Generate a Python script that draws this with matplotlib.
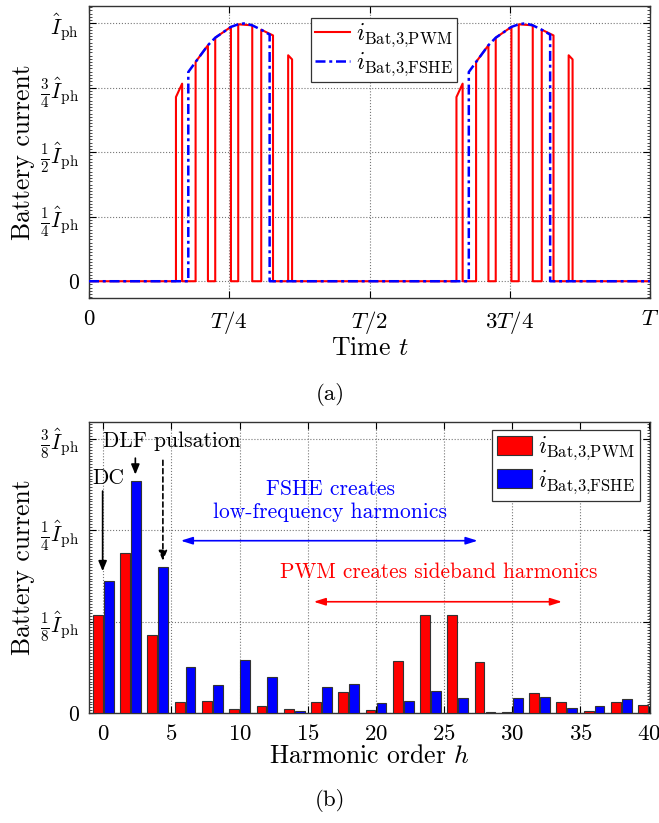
import numpy as np
import matplotlib
matplotlib.use('Agg')
import matplotlib.pyplot as plt
import matplotlib.ticker as ticker

plt.rcParams['font.family'] = 'serif'
plt.rcParams['font.serif'] = ['cmr10']
plt.rcParams['mathtext.fontset'] = 'cm'
plt.rcParams['axes.unicode_minus'] = False
plt.rcParams['axes.formatter.use_mathtext'] = True

# ---- (a) time waveform, first half period (second half repeats at +T/2) ----
# PWM pulses: on-time, off-time, height at start, height at end (in units of I_ph)
pwm_on = [0.155, 0.190, 0.225, 0.266, 0.307, 0.355]
pwm_off = [0.166, 0.212, 0.253, 0.291, 0.328, 0.362]
pwm_h_on = [0.714, 0.850, 0.944, 0.996, 0.975, 0.876]
pwm_h_off = [0.766, 0.915, 0.986, 0.992, 0.953, 0.860]

# FSHE block: top contour
fshe_t = [0.177, 0.190, 0.212, 0.225, 0.253, 0.266, 0.278, 0.291, 0.307, 0.322]
fshe_v = [0.811, 0.850, 0.915, 0.944, 0.986, 0.996, 1.000, 0.992, 0.975, 0.956]
half_shift = [0.0, 0.5]

# ---- (b) harmonic spectrum ----
harm = [0, 2, 4, 6, 8, 10, 12, 14, 16, 18, 20, 22, 24, 26, 28, 30, 32, 34, 36, 38, 40]
pwm_amp = [0.134, 0.218, 0.107, 0.015, 0.016, 0.006, 0.009, 0.005, 0.015, 0.029, 0.004,
           0.071, 0.134, 0.134, 0.070, 0.002, 0.028, 0.015, 0.003, 0.015, 0.011]
fshe_amp = [0.181, 0.317, 0.200, 0.063, 0.038, 0.073, 0.049, 0.003, 0.036, 0.039, 0.014,
            0.016, 0.030, 0.021, 0.002, 0.020, 0.022, 0.007, 0.010, 0.019, np.nan]

RED = '#ff0000'
BLUE = '#0000ff'
LBL_PWM = r'$i_{\rm Bat{,}3{,}PWM}$'
LBL_FSHE = r'$i_{\rm Bat{,}3{,}FSHE}$'


def pwm_wave():
    t, y = [0.0], [0.0]
    for s in half_shift:
        for a, b, ha, hb in zip(pwm_on, pwm_off, pwm_h_on, pwm_h_off):
            t += [a + s, a + s, b + s, b + s]
            y += [0.0, ha, hb, 0.0]
    t.append(1.0)
    y.append(0.0)
    return t, y


def fshe_wave():
    t, y = [0.0], [0.0]
    for s in half_shift:
        t += [fshe_t[0] + s] + [v + s for v in fshe_t] + [fshe_t[-1] + s]
        y += [0.0] + fshe_v + [0.0]
    t.append(1.0)
    y.append(0.0)
    return t, y


def style_axes(ax):
    ax.tick_params(which='both', direction='in', top=True, right=True, pad=7)
    ax.tick_params(axis='y', labelsize=15.5)
    ax.tick_params(axis='x', labelsize=16.5, pad=8)
    ax.tick_params(which='major', length=5, width=0.8)
    ax.tick_params(which='minor', length=2, width=0.5)
    ax.tick_params(axis='x', which='minor', bottom=False, top=False)
    ax.grid(True, which='major', linestyle=':', color='#777777', linewidth=0.8)
    for sp in ax.spines.values():
        sp.set_color('#333333')
        sp.set_linewidth(1.0)


fig = plt.figure(figsize=(6.59, 8.23), dpi=100)

# top
ax1 = fig.add_axes([89 / 659, 1 - 298 / 823, 561 / 659, 292 / 823])
tp, yp = pwm_wave()
tf, yf = fshe_wave()
ax1.plot(tp, yp, color=RED, lw=1.5, label=LBL_PWM, zorder=3)
ax1.plot(tf, yf, color=BLUE, lw=1.8, dashes=(4, 1.5, 1.2, 1.5), label=LBL_FSHE, zorder=4)
ax1.set_xlim(0, 1)
ax1.set_ylim(-0.065, 1.067)
ax1.set_xticks([0, 0.25, 0.5, 0.75, 1])
ax1.set_xticklabels(['0', '$T/4$', '$T/2$', '$3T/4$', '$T$'])
ax1.set_yticks([0, 0.25, 0.5, 0.75, 1])
ax1.set_yticklabels(['0', r'$\frac{1}{4}\hat{I}_{\rm ph}$', r'$\frac{1}{2}\hat{I}_{\rm ph}$',
                     r'$\frac{3}{4}\hat{I}_{\rm ph}$', r'$\hat{I}_{\rm ph}$'])
ax1.yaxis.set_minor_locator(ticker.MultipleLocator(1 / 80))
style_axes(ax1)
ax1.set_xlabel('Time $t$', fontsize=18.5, labelpad=0)
ax1.set_ylabel('Battery current', fontsize=18.5, labelpad=4)
leg1 = ax1.legend(loc='upper center', bbox_to_anchor=(0.526, 0.959), borderaxespad=0,
                  fontsize=17, fancybox=False, framealpha=1, edgecolor='#333333',
                  handlelength=1.5, borderpad=0.15, labelspacing=0.05, handletextpad=0.25)
leg1.get_frame().set_linewidth(0.9)
fig.text(330 / 659, 1 - 395 / 823, '(a)', ha='center', va='center', fontsize=16.5)

# bottom
ax2 = fig.add_axes([89 / 659, 1 - 713 / 823, 561 / 659, 291.3 / 823])
hx = np.array(harm, dtype=float)
ax2.bar(hx - 0.4, pwm_amp, width=0.72, color=RED, edgecolor='#333333', linewidth=0.8,
        label=LBL_PWM, zorder=3)
ax2.bar(hx + 0.4, fshe_amp, width=0.72, color=BLUE, edgecolor='#333333', linewidth=0.8,
        label=LBL_FSHE, zorder=3)
ax2.set_xlim(-1.05, 40.1)
ax2.set_ylim(0, 0.398)
ax2.set_xticks(np.arange(0, 41, 5))
ax2.set_yticks([0, 0.125, 0.25, 0.375])
ax2.set_yticklabels(['0', r'$\frac{1}{8}\hat{I}_{\rm ph}$', r'$\frac{1}{4}\hat{I}_{\rm ph}$',
                     r'$\frac{3}{8}\hat{I}_{\rm ph}$'])
ax2.yaxis.set_minor_locator(ticker.MultipleLocator(1 / 256))
style_axes(ax2)
ax2.set_xlabel('Harmonic order $h$', fontsize=18.5, labelpad=0)
ax2.set_ylabel('Battery current', fontsize=18.5, labelpad=4)
leg2 = ax2.legend(loc='upper right', bbox_to_anchor=(0.982, 0.9715), borderaxespad=0,
                  fontsize=17, fancybox=False, framealpha=1, edgecolor='#333333',
                  handlelength=1.5, handleheight=0.85, borderpad=0.2, labelspacing=0.25,
                  handletextpad=0.25)
leg2.get_frame().set_linewidth(0.9)

# annotations
ax2.text(0.0, 0.371, 'DLF pulsation', fontsize=15.5, ha='left', va='center', zorder=5)
ax2.text(0.36, 0.321, 'DC', fontsize=15.5, ha='center', va='center', zorder=5)
solid = dict(arrowstyle='-|>,head_length=0.6,head_width=0.25', color='black', lw=1.2)
ax2.annotate('', xy=(-0.05, 0.19), xytext=(-0.05, 0.307), arrowprops=solid, zorder=6)
ax2.annotate('', xy=(2.35, 0.322), xytext=(2.35, 0.352), arrowprops=solid, zorder=6)
dashed = dict(arrowstyle='-|>,head_length=0.6,head_width=0.25', color='black', lw=1.2,
              linestyle=(0, (3, 2)))
ax2.annotate('', xy=(4.37, 0.204), xytext=(4.37, 0.349), arrowprops=dashed, zorder=6)

ax2.text(16.66, 0.29, 'FSHE creates\nlow-frequency harmonics', color=BLUE, fontsize=15.5,
         ha='center', va='center', linespacing=1.25, zorder=5)
dbl_b = dict(arrowstyle='<|-|>,head_length=0.7,head_width=0.22', color=BLUE, lw=1.2,
             shrinkA=0, shrinkB=0)
ax2.annotate('', xy=(5.68, 0.2354), xytext=(27.46, 0.2354), arrowprops=dbl_b, zorder=6)

ax2.text(24.6, 0.1917, 'PWM creates sideband harmonics', color=RED, fontsize=15.3,
         ha='center', va='center', zorder=5)
dbl_r = dict(arrowstyle='<|-|>,head_length=0.7,head_width=0.22', color=RED, lw=1.2,
             shrinkA=0, shrinkB=0)
ax2.annotate('', xy=(15.43, 0.152), xytext=(33.65, 0.152), arrowprops=dbl_r, zorder=6)

fig.text(330 / 659, 1 - 800 / 823, '(b)', ha='center', va='center', fontsize=16.5)

fig.savefig('out.png', dpi=100)
